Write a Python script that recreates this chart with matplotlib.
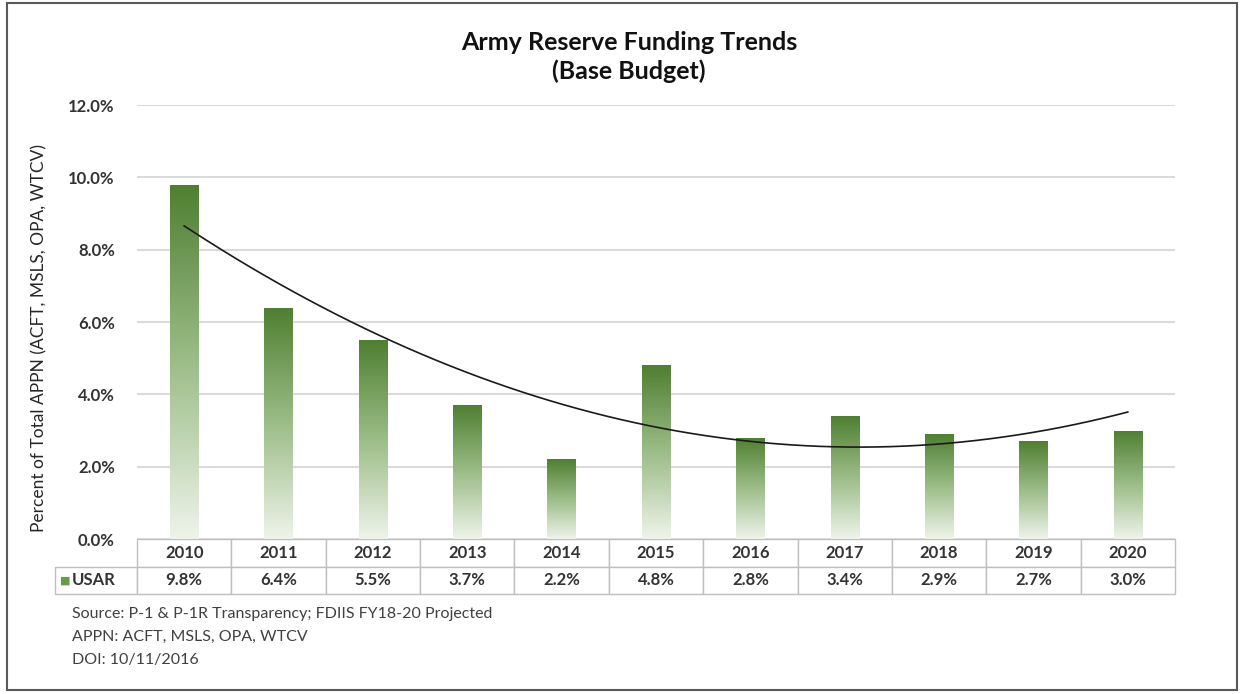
import matplotlib.pyplot as plt
import numpy as np
from matplotlib.colors import LinearSegmentedColormap
from matplotlib.patches import Rectangle
from matplotlib.table import Table

years = ["2010", "2011", "2012", "2013", "2014", "2015", "2016", "2017", "2018", "2019", "2020"]
usar = [9.8, 6.4, 5.5, 3.7, 2.2, 4.8, 2.8, 3.4, 2.9, 2.7, 3.0]
yticks = [0, 2, 4, 6, 8, 10, 12]
notes = [
    "Source: P-1 & P-1R Transparency; FDIIS FY18-20 Projected",
    "APPN: ACFT, MSLS, OPA, WTCV",
    "DOI: 10/11/2016",
]

plt.rcParams["font.family"] = ["Lato", "DejaVu Sans"]

fig = plt.figure(figsize=(12.43, 6.94), dpi=100)
ax = fig.add_axes([0.1102, 0.2233, 0.8351, 0.6254])

# bars with a vertical gradient fill (dark top -> pale bottom)
x = np.arange(len(years))
bars = ax.bar(x, usar, width=0.3, color="none", edgecolor="none", zorder=2)
cmap = LinearSegmentedColormap.from_list("grn", ["#eef4ea", "#9cbd88", "#4f7f31"])
grad = np.linspace(0, 1, 256).reshape(-1, 1)
for b in bars:
    x0 = b.get_x()
    im = ax.imshow(grad, cmap=cmap, origin="lower", aspect="auto",
                   extent=[x0, x0 + b.get_width(), 0, b.get_height()], zorder=2)
    im.set_clip_path(b)

# polynomial (order 2) trendline
coef = np.polyfit(x, usar, 2)
xs = np.linspace(0, len(years) - 1, 200)
ax.plot(xs, np.polyval(coef, xs), color="#1a1a1a", lw=1.2, zorder=3)

ax.set_xlim(-0.5, len(years) - 0.5)
ax.set_ylim(0, 12)
ax.set_yticks(yticks)
ax.set_yticklabels([f"{v:.1f}%" for v in yticks], fontsize=12, fontweight="bold", color="#333333")
ax.set_xticks([])
ax.tick_params(axis="y", length=0, pad=16)
ax.yaxis.grid(True, color="#d9d9d9", lw=1.4)
ax.set_axisbelow(True)
for s in ax.spines.values():
    s.set_visible(False)

# data table under the chart
lab_w = 0.079
col_w = 1.0 / len(years)
row_h = 0.0635
tab = Table(ax, bbox=[-lab_w, -2 * row_h, 1 + lab_w, 2 * row_h])
corner = tab.add_cell(0, 0, lab_w, row_h, text="")
corner.visible_edges = "open"
for i, yr in enumerate(years):
    tab.add_cell(0, i + 1, col_w, row_h, text=yr, loc="center")
tab.add_cell(1, 0, lab_w, row_h, text="", loc="center")
for i, v in enumerate(usar):
    tab.add_cell(1, i + 1, col_w, row_h, text=f"{v:.1f}%", loc="center")
tab.auto_set_font_size(False)
tab.set_fontsize(12)
for cell in tab.get_celld().values():
    cell.set_edgecolor("#bfbfbf")
    cell.set_linewidth(1.0)
    cell.get_text().set_fontweight("bold")
    cell.get_text().set_color("#333333")
ax.add_table(tab)

ax.text(-0.0694, -1.5 * row_h, "■", color="#6a9a4e", fontsize=8, ha="center", va="center",
        transform=ax.transAxes)
ax.text(-0.0626, -1.5 * row_h, "USAR", color="#333333", fontsize=12, fontweight="bold",
        ha="left", va="center", transform=ax.transAxes)

fig.text(0.506, 0.918, "Army Reserve Funding Trends\n(Base Budget)", ha="center", va="center",
         fontsize=18, fontweight="bold", color="#111111", linespacing=1.25)
fig.text(0.032, 0.513, "Percent of Total APPN (ACFT, MSLS, OPA, WTCV)", rotation=90,
         ha="center", va="center", fontsize=12.5, color="#262626")

for i, t in enumerate(notes):
    fig.text(0.058, 0.115 - i * 0.033, t, ha="left", va="center", fontsize=11.5, color="#404040")

# outer frame
fig.patches.append(Rectangle((0.006, 0.006), 0.989, 0.99, transform=fig.transFigure,
                             fill=False, edgecolor="#595959", lw=1.5))

fig.savefig("out.png", dpi=100)
